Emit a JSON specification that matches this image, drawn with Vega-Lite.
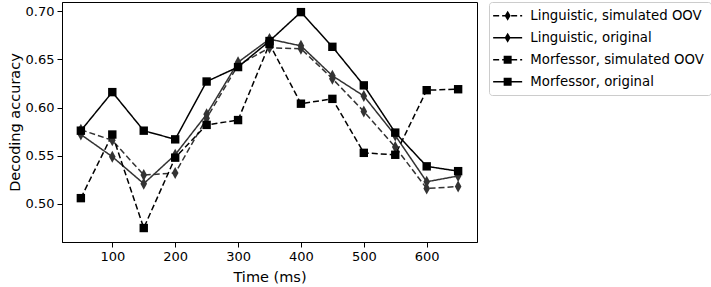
{
  "$schema": "https://vega.github.io/schema/vega-lite/v6.json",
  "width": 415,
  "height": 240,
  "autosize": {"type": "none"},
  "padding": {"left": 62, "top": 2, "right": 234, "bottom": 45},
  "config": {
    "font": "DejaVu Sans",
    "view": {"stroke": "black", "strokeWidth": 1},
    "axis": {
      "domainColor": "black",
      "tickColor": "black",
      "labelColor": "black",
      "titleColor": "black",
      "labelFont": "DejaVu Sans",
      "titleFont": "DejaVu Sans",
      "labelFontSize": 13,
      "titleFontSize": 14.5,
      "titleFontWeight": "normal",
      "tickSize": 5,
      "tickWidth": 1,
      "domainWidth": 1,
      "labelPadding": 3,
      "grid": false
    }
  },
  "data": {
    "values": [
      {"series": "Linguistic, simulated OOV", "time": 50, "acc": 0.577},
      {"series": "Linguistic, simulated OOV", "time": 100, "acc": 0.566},
      {"series": "Linguistic, simulated OOV", "time": 150, "acc": 0.530},
      {"series": "Linguistic, simulated OOV", "time": 200, "acc": 0.532},
      {"series": "Linguistic, simulated OOV", "time": 250, "acc": 0.589},
      {"series": "Linguistic, simulated OOV", "time": 300, "acc": 0.644},
      {"series": "Linguistic, simulated OOV", "time": 350, "acc": 0.662},
      {"series": "Linguistic, simulated OOV", "time": 400, "acc": 0.661},
      {"series": "Linguistic, simulated OOV", "time": 450, "acc": 0.630},
      {"series": "Linguistic, simulated OOV", "time": 500, "acc": 0.596},
      {"series": "Linguistic, simulated OOV", "time": 550, "acc": 0.559},
      {"series": "Linguistic, simulated OOV", "time": 600, "acc": 0.516},
      {"series": "Linguistic, simulated OOV", "time": 650, "acc": 0.518},
      {"series": "Linguistic, original", "time": 50, "acc": 0.572},
      {"series": "Linguistic, original", "time": 100, "acc": 0.549},
      {"series": "Linguistic, original", "time": 150, "acc": 0.521},
      {"series": "Linguistic, original", "time": 200, "acc": 0.551},
      {"series": "Linguistic, original", "time": 250, "acc": 0.593},
      {"series": "Linguistic, original", "time": 300, "acc": 0.647},
      {"series": "Linguistic, original", "time": 350, "acc": 0.671},
      {"series": "Linguistic, original", "time": 400, "acc": 0.664},
      {"series": "Linguistic, original", "time": 450, "acc": 0.633},
      {"series": "Linguistic, original", "time": 500, "acc": 0.612},
      {"series": "Linguistic, original", "time": 550, "acc": 0.571},
      {"series": "Linguistic, original", "time": 600, "acc": 0.523},
      {"series": "Linguistic, original", "time": 650, "acc": 0.529},
      {"series": "Morfessor, simulated OOV", "time": 50, "acc": 0.506},
      {"series": "Morfessor, simulated OOV", "time": 100, "acc": 0.572},
      {"series": "Morfessor, simulated OOV", "time": 150, "acc": 0.475},
      {"series": "Morfessor, simulated OOV", "time": 200, "acc": 0.548},
      {"series": "Morfessor, simulated OOV", "time": 250, "acc": 0.582},
      {"series": "Morfessor, simulated OOV", "time": 300, "acc": 0.587},
      {"series": "Morfessor, simulated OOV", "time": 350, "acc": 0.666},
      {"series": "Morfessor, simulated OOV", "time": 400, "acc": 0.604},
      {"series": "Morfessor, simulated OOV", "time": 450, "acc": 0.609},
      {"series": "Morfessor, simulated OOV", "time": 500, "acc": 0.553},
      {"series": "Morfessor, simulated OOV", "time": 550, "acc": 0.551},
      {"series": "Morfessor, simulated OOV", "time": 600, "acc": 0.618},
      {"series": "Morfessor, simulated OOV", "time": 650, "acc": 0.619},
      {"series": "Morfessor, original", "time": 50, "acc": 0.576},
      {"series": "Morfessor, original", "time": 100, "acc": 0.616},
      {"series": "Morfessor, original", "time": 150, "acc": 0.576},
      {"series": "Morfessor, original", "time": 200, "acc": 0.567},
      {"series": "Morfessor, original", "time": 250, "acc": 0.627},
      {"series": "Morfessor, original", "time": 300, "acc": 0.642},
      {"series": "Morfessor, original", "time": 350, "acc": 0.669},
      {"series": "Morfessor, original", "time": 400, "acc": 0.699},
      {"series": "Morfessor, original", "time": 450, "acc": 0.663},
      {"series": "Morfessor, original", "time": 500, "acc": 0.623},
      {"series": "Morfessor, original", "time": 550, "acc": 0.574},
      {"series": "Morfessor, original", "time": 600, "acc": 0.539},
      {"series": "Morfessor, original", "time": 650, "acc": 0.534}
    ]
  },
  "encoding": {
    "x": {
      "field": "time",
      "type": "quantitative",
      "scale": {"domain": [20, 680], "nice": false, "zero": false},
      "axis": {"values": [100, 200, 300, 400, 500, 600], "title": "Time (ms)", "titlePadding": 7}
    },
    "y": {
      "field": "acc",
      "type": "quantitative",
      "scale": {"domain": [0.4605, 0.7095], "nice": false, "zero": false},
      "axis": {"values": [0.5, 0.55, 0.6, 0.65, 0.7], "format": ".2f", "title": "Decoding accuracy", "titlePadding": 3}
    },
    "color": {
      "field": "series",
      "type": "nominal",
      "scale": {
        "domain": ["Linguistic, simulated OOV", "Linguistic, original", "Morfessor, simulated OOV", "Morfessor, original"],
        "range": ["#333333", "#333333", "#000000", "#000000"]
      },
      "legend": null
    }
  },
  "layer": [
    {
      "mark": {"type": "line", "strokeWidth": 1.5},
      "encoding": {
        "strokeDash": {
          "field": "series",
          "type": "nominal",
          "scale": {
            "domain": ["Linguistic, simulated OOV", "Linguistic, original", "Morfessor, simulated OOV", "Morfessor, original"],
            "range": [[6, 3], [1, 0], [6, 3], [1, 0]]
          },
          "legend": null
        }
      }
    },
    {
      "mark": {"type": "point", "filled": true, "opacity": 1, "size": 144},
      "encoding": {
        "shape": {
          "field": "series",
          "type": "nominal",
          "scale": {
            "domain": ["Linguistic, simulated OOV", "Linguistic, original", "Morfessor, simulated OOV", "Morfessor, original"],
            "range": [
              "M0,-1L0.55,0L0,1L-0.55,0Z",
              "M0,-1L0.55,0L0,1L-0.55,0Z",
              "M-0.7,-0.7L0.7,-0.7L0.7,0.7L-0.7,0.7Z",
              "M-0.7,-0.7L0.7,-0.7L0.7,0.7L-0.7,0.7Z"
            ]
          },
          "legend": null
        }
      }
    },
    {
      "mark": {"type": "point", "filled": true, "opacity": 0},
      "encoding": {
        "color": {"value": "black"},
        "shape": {
          "field": "series",
          "type": "nominal",
          "scale": {
            "domain": ["Linguistic, simulated OOV", "Linguistic, original", "Morfessor, simulated OOV", "Morfessor, original"],
            "range": [
              "M-1.583,-0.125L-0.583,-0.125L-0.583,0.125L-1.583,0.125ZM-0.083,-0.125L0.917,-0.125L0.917,0.125L-0.083,0.125ZM1.417,-0.125L2.417,-0.125L2.417,0.125L1.417,0.125ZM2.917,-0.125L3.25,-0.125L3.25,0.125L2.917,0.125ZM0.833,-0.833L1.333,0L0.833,0.833L0.333,0Z",
              "M-1.583,-0.125L3.25,-0.125L3.25,0.125L-1.583,0.125ZM0.833,-0.833L1.333,0L0.833,0.833L0.333,0Z",
              "M-1.583,-0.125L-0.583,-0.125L-0.583,0.125L-1.583,0.125ZM-0.083,-0.125L0.917,-0.125L0.917,0.125L-0.083,0.125ZM1.417,-0.125L2.417,-0.125L2.417,0.125L1.417,0.125ZM2.917,-0.125L3.25,-0.125L3.25,0.125L2.917,0.125ZM0.167,-0.667L1.5,-0.667L1.5,0.667L0.167,0.667Z",
              "M-1.583,-0.125L3.25,-0.125L3.25,0.125L-1.583,0.125ZM0.167,-0.667L1.5,-0.667L1.5,0.667L0.167,0.667Z"
            ]
          },
          "legend": {
            "title": null,
            "orient": "right",
            "offset": 12,
            "padding": 7,
            "rowPadding": 8,
            "labelOffset": 21,
            "labelFont": "DejaVu Sans",
            "labelFontSize": 13.3,
            "labelColor": "black",
            "labelLimit": 300,
            "symbolSize": 144,
            "symbolStrokeWidth": 0,
            "symbolOpacity": 1,
            "fillColor": "white",
            "strokeColor": "#cccccc",
            "cornerRadius": 3,
            "encode": {
              "symbols": {
                "update": {
                  "fill": {"value": "black"},
                  "stroke": {"value": "transparent"},
                  "opacity": {"value": 1}
                }
              }
            }
          }
        }
      }
    }
  ],
  "resolve": {"scale": {"shape": "independent"}}
}
